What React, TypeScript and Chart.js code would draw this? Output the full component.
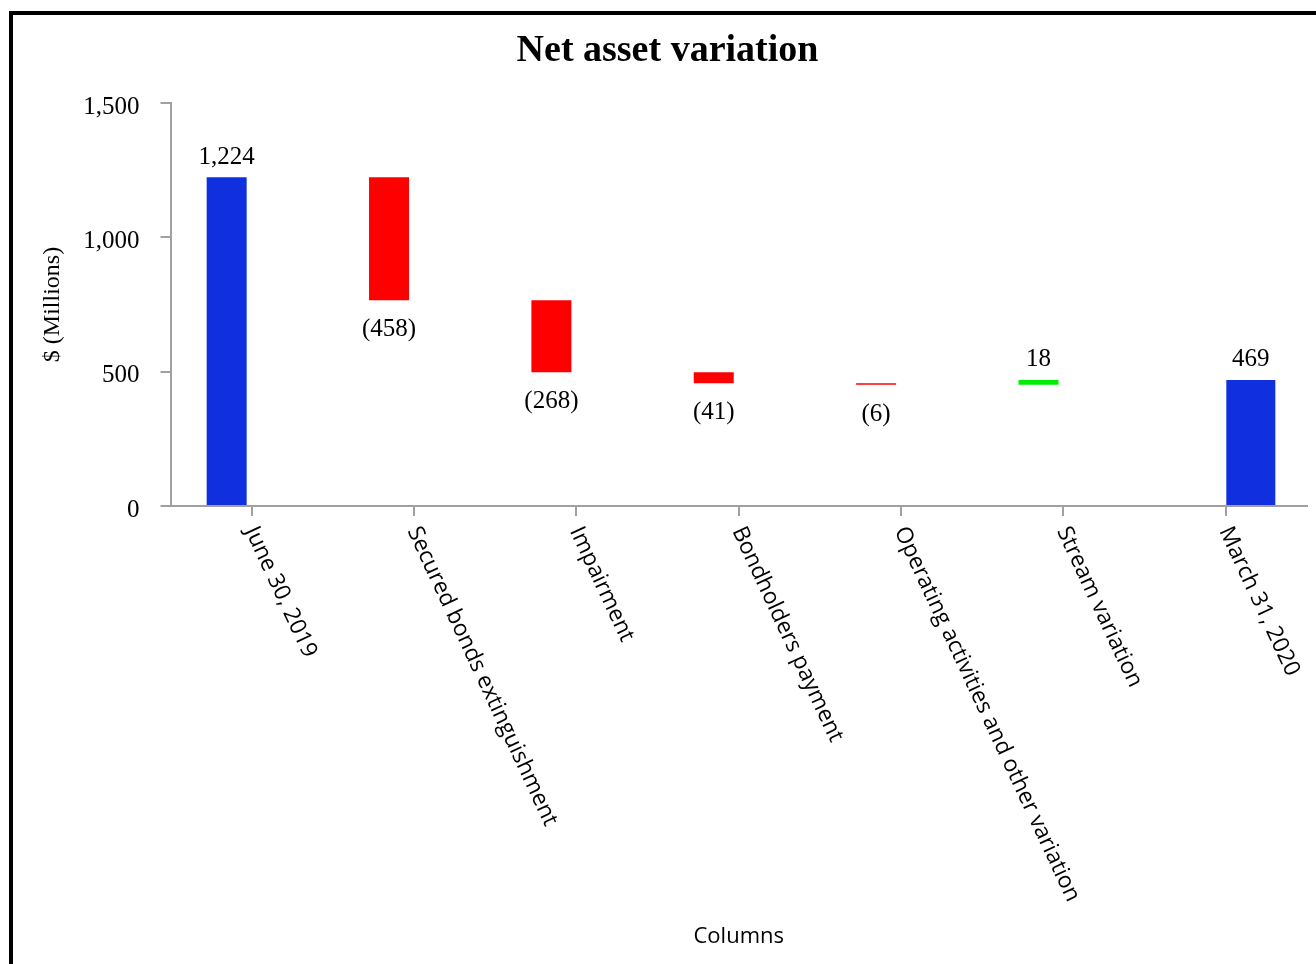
import React, { useEffect, useRef } from 'react';
import Chart from 'chart.js/auto';

const categories = [
  'June 30, 2019',
  'Secured bonds extinguishment',
  'Impairment',
  'Bondholders payment',
  'Operating activities and other variation',
  'Stream variation',
  'March 31, 2020',
];
const openingBalance = 1224;
const stepChanges = [-458, -268, -41, -6, 18];
const closingBalance = 469;
const yTickValues = [0, 500, 1000, 1500];

const TOTAL_COLOR = '#1030e0';
const DECREASE_COLOR = '#ff0000';
const INCREASE_COLOR = '#00ee00';
const AXIS_COLOR = '#a0a0a0';
const SERIF = '"Liberation Serif", "Times New Roman", serif';
const SANS = '"Open Sans", "Noto Sans", sans-serif';

const CANVAS_W = 1303;
const CANVAS_H = 949;

export default function App() {
  const ref = useRef<HTMLCanvasElement>(null);

  useEffect(() => {
    if (!ref.current) return;

    const leftData: ([number, number] | null)[] = [[0, openingBalance]];
    const leftColors: string[] = [TOTAL_COLOR];
    let running = openingBalance;
    for (const d of stepChanges) {
      const next = running + d;
      leftData.push([Math.min(running, next), Math.max(running, next)]);
      leftColors.push(d < 0 ? DECREASE_COLOR : INCREASE_COLOR);
      running = next;
    }
    leftData.push(null);
    leftColors.push(TOTAL_COLOR);
    const rightData = categories.map((_, i) =>
      i === categories.length - 1 ? ([0, closingBalance] as [number, number]) : null
    );
    const labelValues = [openingBalance, ...stepChanges, closingBalance];

    const fmt = (v: number) =>
      v < 0 ? `(${Math.abs(v).toLocaleString('en-US')})` : v.toLocaleString('en-US');

    const valueLabels = {
      id: 'valueLabels',
      afterDatasetsDraw(chart: any) {
        const ctx = chart.ctx;
        ctx.save();
        ctx.font = `25px ${SERIF}`;
        ctx.fillStyle = '#000';
        ctx.textAlign = 'center';
        ctx.textBaseline = 'alphabetic';
        chart.data.datasets.forEach((ds: any, di: number) => {
          const meta = chart.getDatasetMeta(di);
          meta.data.forEach((el: any, i: number) => {
            if (ds.data[i] == null) return;
            const p = el.getProps(['x', 'y', 'base'], true);
            const top = Math.min(p.y, p.base);
            const bottom = Math.max(p.y, p.base);
            const v = labelValues[i];
            if (v >= 0) ctx.fillText(fmt(v), p.x, top - 13.5);
            else ctx.fillText(fmt(v), p.x, bottom + 36);
          });
        });
        ctx.restore();
      },
    };

    const rotatedXLabels = {
      id: 'rotatedXLabels',
      afterDraw(chart: any) {
        const xs = chart.scales.x;
        const ctx = chart.ctx;
        ctx.save();
        ctx.font = `22.6px ${SANS}`;
        ctx.fillStyle = '#000';
        ctx.textAlign = 'left';
        ctx.textBaseline = 'middle';
        const labels = xs.getLabels();
        labels.forEach((lab: string, i: number) => {
          const x = xs.getPixelForTick(i);
          ctx.save();
          ctx.translate(x - 1, xs.top + 22);
          ctx.rotate((65 * Math.PI) / 180);
          ctx.fillText(lab, 0, 0);
          ctx.restore();
        });
        ctx.restore();
      },
    };

    const chart = new Chart(ref.current, {
      type: 'bar',
      data: {
        labels: categories,
        datasets: [
          {
            label: 'Changes',
            data: leftData as any,
            backgroundColor: leftColors,
            barPercentage: 0.8,
            categoryPercentage: 0.616,
            borderWidth: 0,
          },
          {
            label: 'Closing',
            data: rightData as any,
            backgroundColor: TOTAL_COLOR,
            barPercentage: 0.98,
            categoryPercentage: 0.616,
            borderWidth: 0,
          },
        ],
      },
      options: {
        responsive: false,
        devicePixelRatio: 1,
        animation: false,
        layout: { padding: { left: 15, right: 9, top: 0, bottom: 0 } },
        plugins: {
          legend: { display: false },
          tooltip: { enabled: false },
          title: {
            display: true,
            text: 'Net asset variation',
            color: '#000',
            font: { family: SERIF, size: 38, weight: 'bold', lineHeight: 1.2 },
            padding: { top: 13.4, bottom: 29 },
          },
        },
        scales: {
          x: {
            grid: {
              display: true,
              drawOnChartArea: false,
              drawTicks: true,
              tickLength: 10,
              color: AXIS_COLOR,
              lineWidth: 2,
              offset: false,
            },
            border: { display: true, color: AXIS_COLOR, width: 2 },
            ticks: { display: false },
            title: {
              display: true,
              text: 'Columns',
              color: '#000',
              font: { family: SANS, size: 22, lineHeight: 1.2 },
              padding: { top: 0, bottom: 14 },
            },
            afterFit: (scale: any) => {
              scale.height = 458;
            },
          },
          y: {
            min: 0,
            max: 1500,
            grid: {
              display: true,
              drawOnChartArea: false,
              drawTicks: true,
              tickLength: 10,
              color: AXIS_COLOR,
              lineWidth: 2,
            },
            border: { display: true, color: AXIS_COLOR, width: 2 },
            afterBuildTicks: (scale: any) => {
              scale.ticks = yTickValues.map((v) => ({ value: v }));
            },
            ticks: {
              color: '#000',
              padding: 21,
              font: { family: SERIF, size: 25, lineHeight: '8px' as any },
              callback: (v: any) => ['', Number(v).toLocaleString('en-US')],
            },
            title: {
              display: true,
              text: '$ (Millions)',
              color: '#000',
              font: { family: SERIF, size: 24, lineHeight: 1.2 },
              padding: { top: 10.6, bottom: 0 },
            },
            afterFit: (scale: any) => {
              scale.width = 142.5;
            },
          },
        },
      },
      plugins: [valueLabels, rotatedXLabels],
    });

    return () => chart.destroy();
  }, []);

  return (
    <div
      style={{
        position: 'fixed',
        left: 9,
        top: 11,
        width: CANVAS_W,
        height: CANVAS_H,
        borderLeft: '4px solid #000',
        borderTop: '4px solid #000',
        background: '#fff',
      }}
    >
      <canvas
        ref={ref}
        width={CANVAS_W}
        height={CANVAS_H}
        style={{ display: 'block', width: CANVAS_W, height: CANVAS_H }}
      />
    </div>
  );
}
